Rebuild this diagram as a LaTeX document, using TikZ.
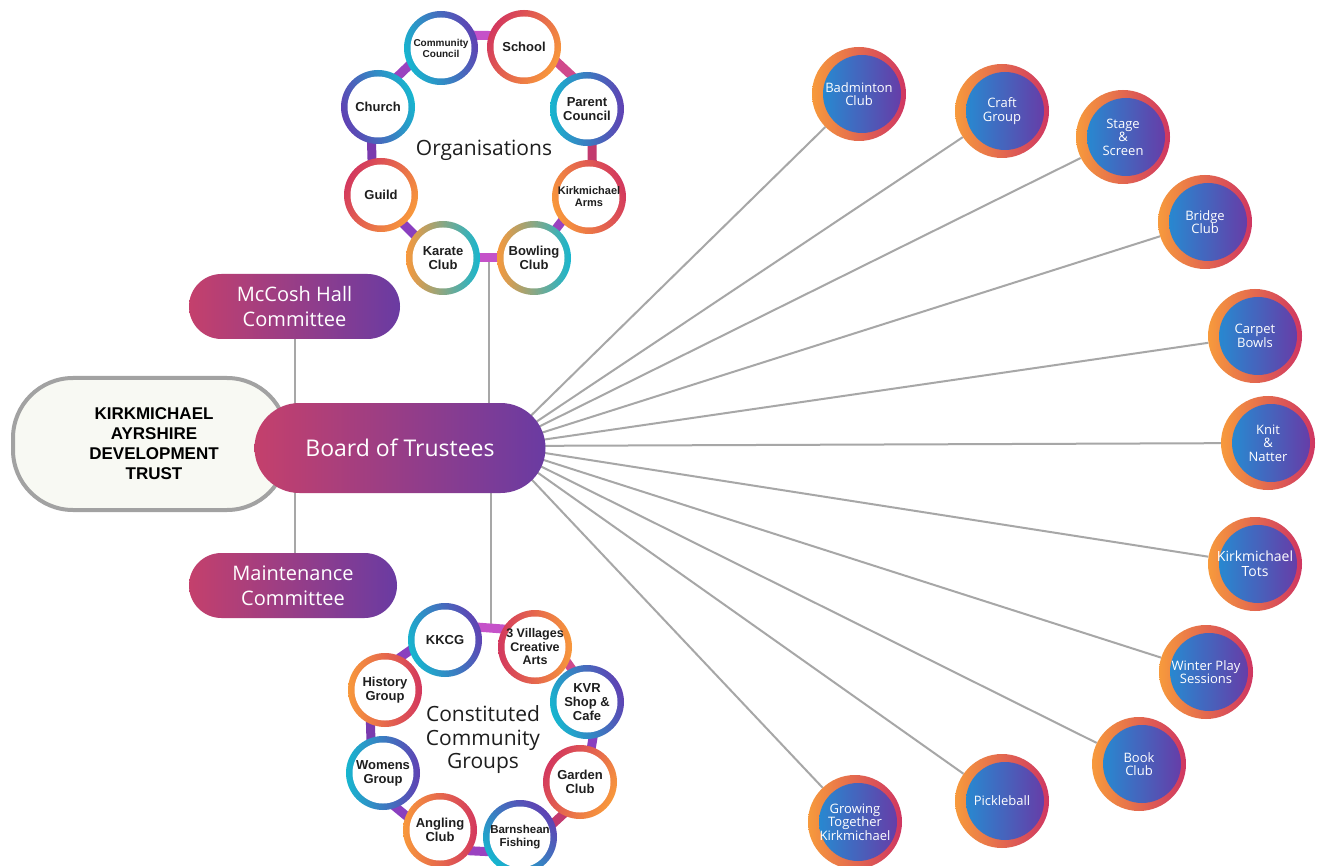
\documentclass[tikz,border=0pt]{standalone}
\usepackage{fontspec}
\setmainfont{Open Sans}
\newfontfamily\lsans{Liberation Sans}
\usetikzlibrary{backgrounds,calc}
\definecolor{corange}{HTML}{F8983B}
\definecolor{ccrimson}{HTML}{D3385E}
\definecolor{cpurple}{HTML}{6041B3}
\definecolor{ccyan}{HTML}{17B6CF}
\definecolor{cmag}{HTML}{C552C9}
\definecolor{cbar1}{HTML}{D04A8C}
\definecolor{cbar2}{HTML}{C23A6E}
\definecolor{cbar3}{HTML}{8A3FBF}
\definecolor{cbar4}{HTML}{7A3AAE}
\definecolor{cbar5}{HTML}{9A42C0}
\definecolor{co1}{HTML}{F79A3C}
\definecolor{co2}{HTML}{CF3662}
\definecolor{ci1}{HTML}{1F93D6}
\definecolor{ci2}{HTML}{6A38A5}
\definecolor{pk}{HTML}{C4406C}
\definecolor{pu}{HTML}{6A3BA2}
\definecolor{lgray}{HTML}{A7A7A7}
\definecolor{kgray}{HTML}{A2A2A2}
\definecolor{kfill}{HTML}{F8F9F3}
\definecolor{ctext}{HTML}{1E1E1E}
\begin{document}
\begin{tikzpicture}[x=1pt,y=-1pt,
  ringc/.style n args={3}{circle, minimum size=74pt, inner sep=0pt,
    top color=#1, bottom color=#2, shading angle=#3,
    path picture={\fill[white] (path picture bounding box.center) circle[radius=30.5pt];},
    align=center, text=ctext, font=\lsans\bfseries\fontsize{13}{14}\selectfont},
  actc/.style={circle, minimum size=94pt, inner sep=0pt, left color=co1, right color=co2,
    path picture={\shade[left color=ci1, right color=ci2] ([xshift=3pt]path picture bounding box.center) circle[radius=39pt];},
    align=center, text=white, font=\fontsize{13}{13.5}\selectfont},
  pill/.style={rounded corners=#1, left color=pk, right color=pu, text=white, align=center, inner sep=0pt},
  gline/.style={draw=lgray, line width=2pt},
  bar/.style={line width=9pt, draw=#1, shorten <=-3pt, shorten >=-3pt},
  grouplabel/.style={align=center, text=ctext, font=\fontsize{21}{23.5}\selectfont}
]
\useasboundingbox (0,0) rectangle (1317,866);
\begin{scope}[on background layer]
\fill[white] (0,0) rectangle (1317,866);
\end{scope}

% left boxes
\node[draw=kgray, line width=4pt, fill=kfill, rounded corners=60pt, minimum width=274pt, minimum height=132pt,
  align=center, font=\lsans\bfseries\fontsize{17}{20}\selectfont, text=black] (kadt) at (150,444)
  {\hspace*{8pt}KIRKMICHAEL\\\hspace*{8pt}AYRSHIRE\\\hspace*{8pt}DEVELOPMENT\\\hspace*{8pt}TRUST};
\node[pill=45pt, minimum width=291pt, minimum height=90pt, font=\fontsize{23}{27}\selectfont] (board) at (400,448) {Board of Trustees};
\node[pill=32.5pt, minimum width=211pt, minimum height=65pt, font=\fontsize{20}{25}\selectfont] (mccosh) at (294.5,306.5) {McCosh Hall\\Committee};
\node[pill=32.5pt, minimum width=208pt, minimum height=65pt, font=\fontsize{20}{25}\selectfont] (maint) at (293,585.5) {Maintenance\\Committee};

% organisations ring
\node[grouplabel] (orgl) at (484,150) {Organisations};
\node[ringc={ccyan}{cpurple}{110}, font=\lsans\bfseries\fontsize{10}{11}\selectfont] (cc) at (441,48) {Community\\Council};
\node[ringc={ccrimson}{corange}{60}] (school) at (524,47) {School};
\node[ringc={ccyan}{cpurple}{90}] (pc) at (587,109) {Parent\\Council};
\node[ringc={corange}{ccrimson}{110}, font=\lsans\bfseries\fontsize{11}{12}\selectfont] (ka) at (589,197) {Kirkmichael\\Arms};
\node[ringc={corange}{ccyan}{90}] (bowl) at (534,258) {Bowling\\Club};
\node[ringc={corange}{ccyan}{90}] (karate) at (443,258) {Karate\\Club};
\node[ringc={ccrimson}{corange}{60}] (guild) at (381,195) {Guild};
\node[ringc={cpurple}{ccyan}{110}] (church) at (378,107) {Church};

% constituted ring
\node[grouplabel] (cgl) at (483,740) {Constituted\\Community\\Groups};
\node[ringc={ccyan}{cpurple}{110}] (kkcg) at (445,640) {KKCG};
\node[ringc={ccrimson}{corange}{90}, font=\lsans\bfseries\fontsize{12.5}{13.5}\selectfont] (v3) at (535,647) {3 Villages\\Creative\\Arts};
\node[ringc={ccyan}{cpurple}{110}] (kvr) at (587,702) {KVR\\Shop \&\\Cafe};
\node[ringc={ccrimson}{corange}{60}] (garden) at (580,782) {Garden\\Club};
\node[ringc={ccyan}{cpurple}{135}, font=\lsans\bfseries\fontsize{11.5}{13}\selectfont] (barn) at (520,837) {Barnshean\\Fishing};
\node[ringc={corange}{ccrimson}{90}] (angling) at (440,830) {Angling\\Club};
\node[ringc={ccyan}{cpurple}{90}] (womens) at (383,773) {Womens\\Group};
\node[ringc={corange}{ccrimson}{90}] (history) at (385,690) {History\\Group};

% activity circles
\node[actc] (bad) at (859,94) {Badminton\\Club};
\node[actc] (craft) at (1002,111) {Craft\\Group};
\node[actc] (stage) at (1123,137) {Stage\\\&\\Screen};
\node[actc] (bridge) at (1205,222) {Bridge\\Club};
\node[actc] (carpet) at (1255,336) {Carpet\\Bowls};
\node[actc] (knit) at (1268,443) {Knit\\\&\\Natter};
\node[actc, font=\fontsize{14}{15}\selectfont] (tots) at (1255,564) {Kirkmichael\\Tots};
\node[actc] (winter) at (1206,672) {Winter Play\\Sessions};
\node[actc] (book) at (1139,764) {Book\\Club};
\node[actc] (pickle) at (1002,801) {Pickleball};
\node[actc] (grow) at (855,822) {Growing\\Together\\Kirkmichael};

\coordinate (fan) at (500,446);
\coordinate (ob) at ($(bowl.180)!0.5!(karate.0)$);
\coordinate (cb) at ($(kkcg.20)!0.5!(v3.151)$);

\begin{scope}[on background layer]
% grey connectors
\foreach \n in {bad,craft,stage,bridge,carpet,knit,tots,winter,book,pickle,grow}
  \draw[gline] (fan) -- (\n);
\draw[gline] (mccosh.south) -- (mccosh.south |- maint.north);
\draw[gline] (ob) -- (ob |- board.north);
\draw[gline] (cb) -- (cb |- board.south);
% organisation bars
\draw[bar=cmag] (cc.20) -- (school.162);
\draw[bar=cbar1] (school.-25) -- (pc.115);
\draw[bar=cbar2] (pc.-82) -- (ka.85);
\draw[bar=cbar5] (ka.-138) -- (bowl.53);
\draw[bar=cmag] (bowl.180) -- (karate.0);
\draw[bar=cbar3] (karate.141) -- (guild.-52);
\draw[bar=cbar4] (guild.104) -- (church.-100);
\draw[bar=cbar5] (church.57) -- (cc.-151);
% constituted bars
\draw[bar=cmag] (kkcg.20) -- (v3.151);
\draw[bar=cbar1] (v3.-27) -- (kvr.115);
\draw[bar=cbar3] (kvr.-81) -- (garden.72);
\draw[bar=cbar2] (garden.-118) -- (barn.23);
\draw[bar=cbar5] (barn.-157) -- (angling.-34);
\draw[bar=cbar3] (angling.157) -- (womens.-69);
\draw[bar=cbar4] (womens.109) -- (history.-113);
\draw[bar=cbar3] (history.64) -- (kkcg.-163);
\end{scope}
\end{tikzpicture}
\end{document}
